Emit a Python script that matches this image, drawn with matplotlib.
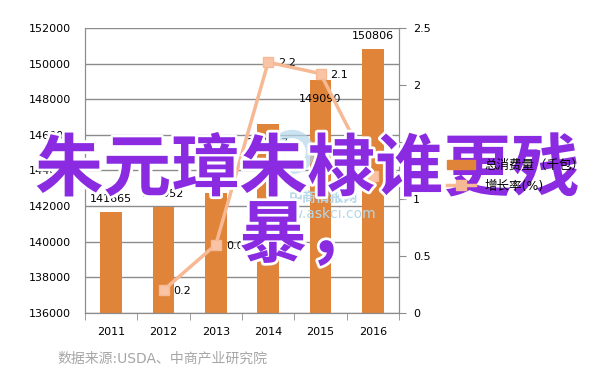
import matplotlib
matplotlib.use("Agg")
from matplotlib import pyplot as plt
from matplotlib import patheffects
from matplotlib.patches import Patch, Ellipse
from matplotlib.lines import Line2D

plt.rcParams['font.family'] = ['DejaVu Sans', 'Noto Sans CJK SC']

years = ['2011', '2012', '2013', '2014', '2015', '2016']
consumption = [141665, 141952, 142756, 146587, 149090, 150806]
growth_years = ['2012', '2013', '2014', '2015', '2016']
growth = [0.2, 0.6, 2.2, 2.1, 1.2]

bar_color = '#E0843A'
line_color = '#F7B994'
grid_color = '#8C8C8C'

fig = plt.figure(figsize=(6.02, 3.84), dpi=100)
ax = fig.add_axes([85 / 602, 1 - 313 / 384, 314 / 602, 285 / 384])
ax2 = ax.twinx()

x = list(range(len(years)))
ax.bar(x, consumption, width=0.42, color=bar_color, zorder=2)
ax.set_ylim(136000, 152000)
ax.set_yticks(range(136000, 152001, 2000))
ax.set_xlim(-0.5, 5.5)
ax.set_xticks(x)
ax.set_xticklabels(years, fontsize=8)
ax.set_xticks([i + 0.5 for i in range(-1, 6)], minor=True)
ax.tick_params(axis='x', which='major', length=0, pad=10)
ax.tick_params(axis='x', which='minor', length=5, color=grid_color)
ax.tick_params(axis='y', length=0, labelsize=8, pad=10)
ax.grid(axis='y', color=grid_color, linewidth=1, zorder=0)
ax.set_axisbelow(True)

# bar value labels (pixel offsets from bar top)
label_offsets = [13, 13, 14, -19, -19, 13]
for xi, v, off in zip(x, consumption, label_offsets):
    ax.annotate(str(v), (xi, v), xytext=(0, off), textcoords='offset pixels',
                ha='center', va='center', fontsize=8, zorder=5)

gx = [years.index(y) for y in growth_years]
ax2.plot(gx, growth, color=line_color, linewidth=2.5, marker='s', markersize=7,
         markerfacecolor='#F9C4A6', markeredgecolor=line_color, zorder=4)
ax2.set_ylim(0, 2.5)
ax2.set_yticks([0, 0.5, 1, 1.5, 2, 2.5])
ax2.set_yticklabels(['0', '0.5', '1', '1.5', '2', '2.5'])
ax2.tick_params(axis='y', length=5, color=grid_color, labelsize=8, pad=5)
for xi, v in zip(gx, growth):
    ax2.annotate(str(v), (xi, v), xytext=(10, -1), textcoords='offset pixels',
                 ha='left', va='center', fontsize=8)

for a in (ax, ax2):
    for s in a.spines.values():
        s.set_color(grid_color)
    a.spines['top'].set_visible(False)

handles = [Patch(color=bar_color), Line2D([], [], color=line_color, linewidth=2.5,
                                          marker='s', markersize=7)]
fig.legend(handles, ['总消费量（千包）', '增长率(%)'], loc='center left',
           bbox_to_anchor=(436 / 602, 1 - 176 / 384), frameon=False,
           fontsize=9, handlelength=2.2, labelspacing=0.6)

# watermark
wm = '#B5D8EA'
fig.add_artist(Ellipse((292 / 602, 1 - 152 / 384), 36 / 602, 36 / 384,
                       transform=fig.transFigure, fill=False, edgecolor=wm,
                       linewidth=6, alpha=0.7))
fig.text(323 / 602, 1 - 198 / 384, '中商情报网', color=wm, fontsize=10,
         ha='center', va='center', fontweight='bold')
fig.text(323 / 602, 1 - 214 / 384, 'www.askci.com', color=wm, fontsize=10,
         ha='center', va='center')

fig.text(57 / 602, 1 - 358 / 384, '数据来源:USDA、中商产业研究院', color='#A6A6A6',
         fontsize=10, ha='left', va='center')

fig.text(307 / 602, 1 - 204 / 384, '朱元璋朱棣谁更残\n暴，', color='#8A2BE2',
         fontsize=49, fontweight='bold', family=['Noto Sans CJK SC'],
         ha='center', va='center', multialignment='center', linespacing=0.95,
         path_effects=[patheffects.withStroke(linewidth=4, foreground='white')])

fig.savefig('out.png', dpi=100)
